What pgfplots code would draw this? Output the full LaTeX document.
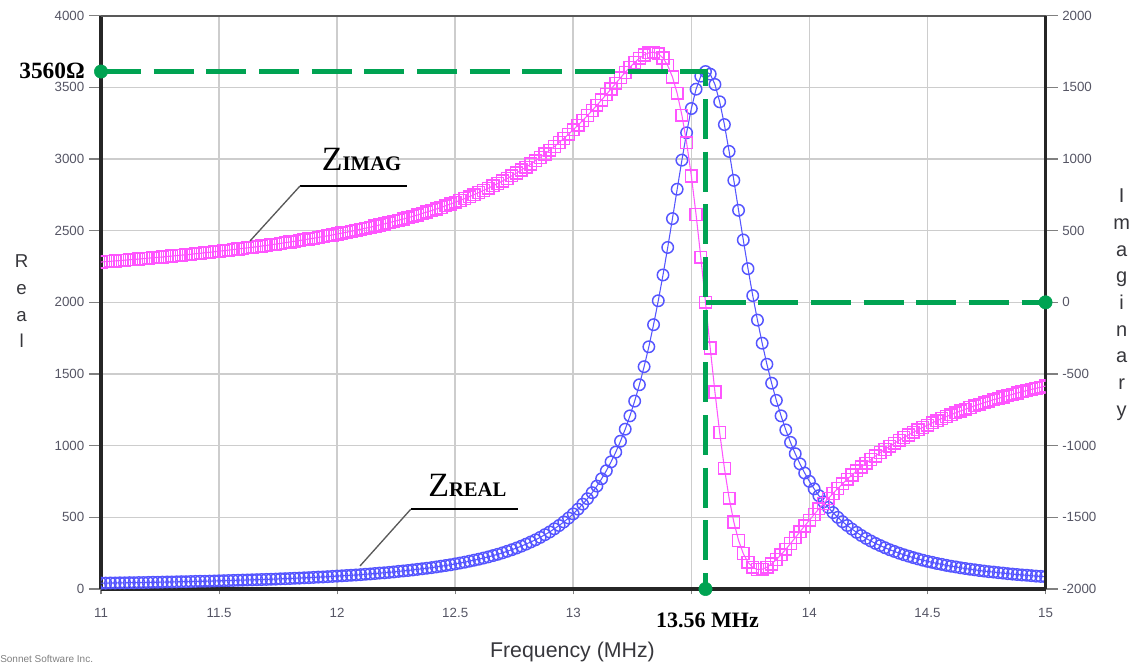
\documentclass[border=0pt]{standalone}
\usepackage{fontspec}
\setmainfont{Liberation Sans}
\newfontfamily\annotfont{Liberation Serif}
\usepackage{pgfplots}
\usepackage{pgfplotstable}
\pgfplotsset{compat=1.18}

\definecolor{realblue}{RGB}{85,85,255}
\definecolor{imagpink}{RGB}{255,85,255}
\definecolor{annot}{RGB}{0,163,82}
\definecolor{ticktext}{RGB}{85,85,100}
\definecolor{labeltext}{RGB}{55,55,60}
\definecolor{gridgray}{RGB}{205,205,205}

% frequency (MHz), real part, imaginary part (ohm)
\pgfplotstableread{
f re im
11.00 41 281
11.02 41 284
11.04 42 286
11.06 42 289
11.08 43 291
11.10 43 294
11.12 44 297
11.14 44 299
11.16 45 302
11.18 45 305
11.20 46 308
11.22 47 311
11.24 47 314
11.26 48 316
11.28 49 320
11.30 49 323
11.32 50 326
11.34 51 329
11.36 51 332
11.38 52 335
11.40 53 339
11.42 54 342
11.44 54 346
11.46 55 349
11.48 56 353
11.50 57 357
11.52 58 360
11.54 59 364
11.56 60 368
11.58 61 372
11.60 62 376
11.62 63 380
11.64 64 384
11.66 65 388
11.68 66 393
11.70 67 397
11.72 68 402
11.74 69 406
11.76 71 411
11.78 72 416
11.80 73 421
11.82 75 426
11.84 76 431
11.86 78 436
11.88 79 442
11.90 81 447
11.92 83 453
11.94 84 459
11.96 86 464
11.98 88 470
12.00 90 477
12.02 92 483
12.04 94 489
12.06 96 496
12.08 98 503
12.10 100 510
12.12 103 517
12.14 105 524
12.16 108 532
12.18 111 540
12.20 113 547
12.22 116 556
12.24 119 564
12.26 123 573
12.28 126 581
12.30 129 590
12.32 133 600
12.34 137 609
12.36 141 620
12.38 145 630
12.40 149 640
12.42 154 651
12.44 159 662
12.46 164 674
12.48 169 686
12.50 175 698
12.52 181 711
12.54 187 724
12.56 194 737
12.58 201 751
12.60 208 766
12.62 216 781
12.64 224 796
12.66 233 813
12.68 242 829
12.70 252 846
12.72 263 864
12.74 274 883
12.76 286 902
12.78 299 923
12.80 313 943
12.82 328 965
12.84 343 988
12.86 360 1011
12.88 379 1035
12.90 398 1061
12.92 420 1087
12.94 443 1115
12.96 468 1143
12.98 495 1173
13.00 524 1204
13.02 557 1236
13.04 592 1269
13.06 630 1303
13.08 672 1338
13.10 718 1375
13.12 769 1412
13.14 825 1450
13.16 887 1489
13.18 955 1528
13.20 1031 1567
13.22 1115 1604
13.24 1208 1640
13.26 1311 1673
13.28 1425 1703
13.30 1551 1726
13.32 1690 1741
13.34 1844 1745
13.36 2011 1734
13.38 2191 1705
13.40 2383 1652
13.42 2584 1572
13.44 2789 1458
13.46 2992 1306
13.48 3183 1114
13.50 3352 882
13.52 3487 613
13.54 3578 315
13.56 3610 0
13.58 3592 -319
13.60 3520 -626
13.62 3399 -908
13.64 3240 -1157
13.66 3053 -1366
13.68 2851 -1533
13.70 2642 -1661
13.72 2435 -1753
13.74 2235 -1814
13.76 2047 -1849
13.78 1876 -1864
13.80 1715 -1862
13.82 1568 -1848
13.84 1436 -1825
13.86 1316 -1795
13.88 1208 -1761
13.90 1110 -1723
13.92 1023 -1683
13.94 944 -1642
13.96 873 -1601
13.98 809 -1560
14.00 751 -1520
14.02 699 -1480
14.04 651 -1441
14.06 608 -1404
14.08 569 -1368
14.10 533 -1333
14.12 500 -1299
14.14 470 -1266
14.16 443 -1235
14.18 418 -1205
14.20 395 -1176
14.22 373 -1149
14.24 353 -1122
14.26 335 -1097
14.28 318 -1072
14.30 303 -1048
14.32 288 -1026
14.34 274 -1004
14.36 262 -983
14.38 250 -963
14.40 239 -943
14.42 229 -925
14.44 219 -907
14.46 210 -889
14.48 201 -873
14.50 193 -857
14.52 186 -841
14.54 178 -826
14.56 172 -811
14.58 165 -797
14.60 159 -784
14.62 154 -771
14.64 148 -758
14.66 143 -746
14.68 138 -734
14.70 134 -722
14.72 129 -711
14.74 125 -700
14.76 121 -690
14.78 118 -679
14.80 114 -670
14.82 111 -660
14.84 107 -651
14.86 104 -642
14.88 101 -633
14.90 98 -624
14.92 96 -616
14.94 93 -608
14.96 90 -600
14.98 88 -592
15.00 86 -584
}\zdata

\pgfplotsset{
  sonnet/.style={
    at={(0,0)}, anchor=south west,
    scale only axis, width=708.4pt, height=430pt,
    xmin=11, xmax=15,
    tick align=outside, major tick length=9pt,
    tick style={gray, line width=0.8pt},
    ticklabel style={font=\fontsize{10}{12}\selectfont, text=ticktext},
    /pgf/number format/assume math mode=true,
    /pgf/number format/1000 sep={},
    scaled ticks=false,
    clip marker paths=true,
  },
}

\begin{document}
\begin{tikzpicture}
\useasboundingbox (-75.75pt,-56.25pt) rectangle (778.5pt,441.75pt);

% real part, left axis
\begin{axis}[sonnet,
  ymin=0, ymax=4000,
  xtick={11,11.5,12,12.5,13,13.5,14,14.5,15},
  xticklabels={11,11.5,12,12.5,13,,14,14.5,15},
  ytick={0,500,1000,1500,2000,2500,3000,3500,4000},
  xtick style={/pgfplots/major tick length=4pt},
  xticklabel style={yshift=-2pt},
  axis x line*=bottom, axis y line*=left,
  axis line style={line width=3pt, black!85},
  grid=major, grid style={gridgray, line width=1.2pt},
]
\addplot[realblue, line width=0.8pt, mark=o, mark size=4.3pt,
  mark options={line width=1.1pt}] table[x=f, y=re] {\zdata};
\end{axis}

% imaginary part, right axis
\begin{axis}[sonnet,
  ymin=-2000, ymax=2000,
  xtick=\empty,
  ytick={-2000,-1500,-1000,-500,0,500,1000,1500,2000},
  axis x line*=top, axis y line*=right,
  x axis line style={line width=1.5pt, black!65},
  y axis line style={line width=2.2pt, black!85},
]
\addplot[imagpink, line width=0.8pt, mark=square, mark size=4.4pt,
  mark options={line width=1.1pt}] table[x=f, y=im] {\zdata};
\end{axis}

% green markers: 3560 ohm peak, 13.56 MHz, zero reactance
\begin{axis}[at={(0,0)}, anchor=south west, scale only axis,
  width=708.4pt, height=430pt, xmin=11, xmax=15, ymin=-2000, ymax=2000,
  hide axis, clip=false]
\addplot[annot, line width=3.75pt, dash pattern=on 30pt off 9.5pt]
  coordinates {(11,1610) (13.56,1610) (13.56,-2000)};
\addplot[annot, line width=3.75pt, dash pattern=on 30pt off 9.5pt]
  coordinates {(13.56,0) (15,0)};
\addplot[annot, only marks, mark=*, mark size=5pt]
  coordinates {(11,1610) (13.56,-2000) (15,0)};
\end{axis}

\node[anchor=base east, inner sep=0,
  font=\annotfont\bfseries\fontsize{17.5}{20}\selectfont] at (-12pt,383pt) {3560Ω};
\node[anchor=base, inner sep=0,
  font=\annotfont\bfseries\fontsize{16.5}{20}\selectfont] at (454.9pt,-28.5pt) {13.56 MHz};

\node[anchor=base west, inner sep=0] at (165.5pt,313.5pt)
  {\annotfont\fontsize{25.5}{28}\selectfont Z\bfseries\fontsize{15.5}{18}\selectfont IMAG};
\draw[black, line width=1.6pt] (149.25pt,302.25pt) -- (229.5pt,302.25pt);
\draw[gray!70!black, line width=1pt] (149.25pt,302.25pt) -- (111.75pt,261pt);

\node[anchor=base west, inner sep=0] at (245.25pt,69pt)
  {\annotfont\fontsize{25.5}{28}\selectfont Z\bfseries\fontsize{15.5}{18}\selectfont REAL};
\draw[black, line width=1.6pt] (232.3pt,59.8pt) -- (313pt,59.8pt);
\draw[gray!70!black, line width=1pt] (232.3pt,59.8pt) -- (194.25pt,17.25pt);

\foreach \c [count=\i from 0] in {R,e,a,l}
  \node[anchor=base, inner sep=0, text=labeltext, font=\fontsize{14}{16}\selectfont]
    at (-59.5pt,{240.75pt-20pt*\i}) {\c};
\foreach \c [count=\i from 0] in {I,m,a,g,i,n,a,r,y}
  \node[anchor=base, inner sep=0, text=labeltext, font=\fontsize{15}{17}\selectfont]
    at (765.5pt,{289.5pt-20pt*\i}) {\c};

\node[anchor=base, inner sep=0, text=labeltext, font=\fontsize{16}{19}\selectfont]
  at (353.6pt,-51.2pt) {Frequency (MHz)};
\node[anchor=base west, inner sep=0, text=gray, font=\fontsize{7.5}{8}\selectfont]
  at (-75.75pt,-54.75pt) {Sonnet Software Inc.};
\end{tikzpicture}
\end{document}
